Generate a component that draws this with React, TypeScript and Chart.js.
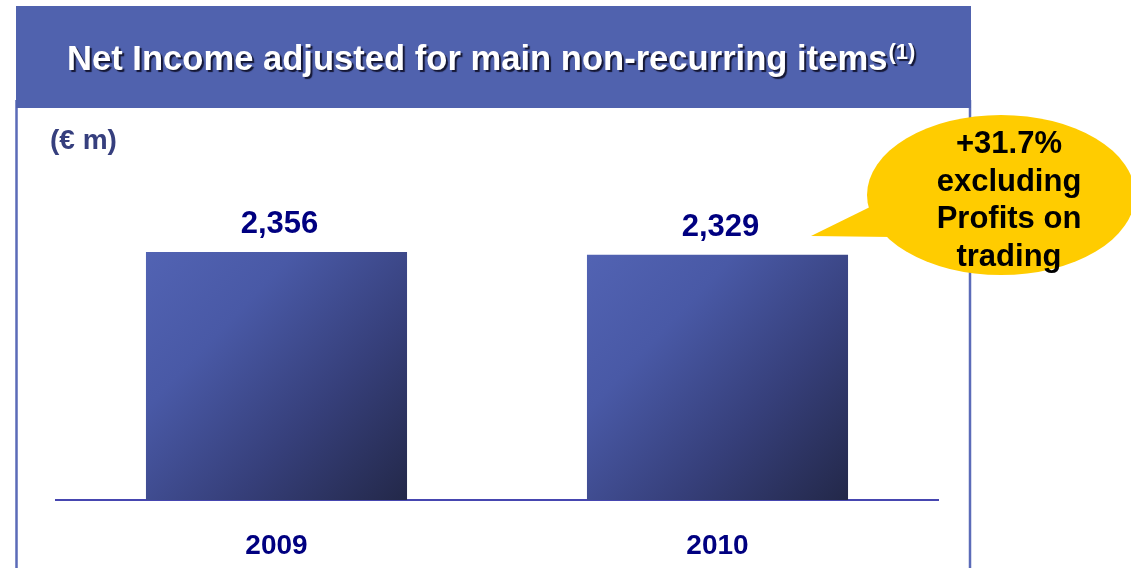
import React, { useEffect, useRef } from "react";
import { Chart, registerables } from "chart.js";

Chart.register(...registerables);

const categories = ["2009", "2010"];
const values = [2356, 2329];
const valueLabels = ["2,356", "2,329"];
const titleText = "Net Income adjusted for main non-recurring items";
const titleSup = "(1)";
const unitText = "(€ m)";
const bubbleLines = ["+31.7%", "excluding", "Profits on", "trading"];

const FONT = '"Liberation Sans", Arial, sans-serif';
const BAR_PCT = 0.592;
const CANVAS_H = 592;

const decorPlugin = {
  id: "decor",
  beforeDraw(chart: any) {
    const ctx = chart.ctx;
    ctx.save();
    ctx.fillStyle = "#ffffff";
    ctx.fillRect(0, 0, chart.width, chart.height);
    // side borders
    ctx.strokeStyle = "#5b6bb8";
    ctx.lineWidth = 2.5;
    ctx.beginPath();
    ctx.moveTo(16.5, 100);
    ctx.lineTo(16.5, chart.height);
    ctx.moveTo(970, 100);
    ctx.lineTo(970, chart.height);
    ctx.stroke();
    // title bar
    ctx.fillStyle = "#5062ae";
    ctx.fillRect(16, 6, 955, 102);
    // title text
    ctx.font = `bold 34.6px ${FONT}`;
    ctx.textBaseline = "alphabetic";
    ctx.textAlign = "left";
    ctx.shadowColor = "rgba(10,10,30,0.85)";
    ctx.shadowOffsetX = 2;
    ctx.shadowOffsetY = 2;
    ctx.shadowBlur = 1;
    ctx.fillStyle = "#ffffff";
    ctx.fillText(titleText, 67, 70);
    const w = ctx.measureText(titleText).width;
    ctx.font = `bold 22px ${FONT}`;
    ctx.fillText(titleSup, 67 + w + 1, 59);
    ctx.restore();
    // unit
    ctx.save();
    ctx.font = `bold 28px ${FONT}`;
    ctx.fillStyle = "#363f7e";
    ctx.textAlign = "left";
    ctx.textBaseline = "alphabetic";
    ctx.fillText(unitText, 50, 149);
    ctx.restore();
  },
  afterDatasetsDraw(chart: any) {
    const ctx = chart.ctx;
    const meta = chart.getDatasetMeta(0);
    ctx.save();
    ctx.font = `bold 31px ${FONT}`;
    ctx.fillStyle = "#000080";
    ctx.textAlign = "center";
    ctx.textBaseline = "alphabetic";
    meta.data.forEach((bar: any, i: number) => {
      ctx.fillText(valueLabels[i], bar.x + 3, bar.y - 19);
    });
    ctx.restore();
  },
  afterDraw(chart: any) {
    const ctx = chart.ctx;
    ctx.save();
    ctx.fillStyle = "#ffcc00";
    ctx.beginPath();
    ctx.ellipse(1001, 195, 134, 80, 0, 0, Math.PI * 2);
    ctx.fill();
    ctx.beginPath();
    ctx.moveTo(811, 236);
    ctx.lineTo(870, 207);
    ctx.lineTo(892, 237);
    ctx.closePath();
    ctx.fill();
    ctx.font = `bold 31px ${FONT}`;
    ctx.fillStyle = "#000000";
    ctx.textAlign = "center";
    ctx.textBaseline = "alphabetic";
    bubbleLines.forEach((line, i) => {
      ctx.fillText(line, 1009, 153 + i * 37.5);
    });
    ctx.restore();
  },
};

export default function App() {
  const ref = useRef<HTMLCanvasElement | null>(null);

  useEffect(() => {
    if (!ref.current) return;
    const chart = new Chart(ref.current, {
      type: "bar",
      data: {
        labels: categories,
        datasets: [
          {
            data: values,
            backgroundColor: (c: any) => {
              const ch = c.chart;
              const xs = ch.scales && ch.scales.x;
              const ys = ch.scales && ch.scales.y;
              if (!xs || !ys || !ch.chartArea || c.dataIndex == null) return "#4050a0";
              const cx = xs.getPixelForValue(c.dataIndex);
              const half = ((ch.chartArea.width / categories.length) * BAR_PCT) / 2;
              const top = ys.getPixelForValue(values[c.dataIndex]);
              const bottom = ys.getPixelForValue(0);
              const g = ch.ctx.createLinearGradient(cx - half, top, cx + half, bottom);
              g.addColorStop(0, "#5263b3");
              g.addColorStop(0.3, "#4959a6");
              g.addColorStop(0.65, "#363f7a");
              g.addColorStop(1, "#232849");
              return g;
            },
            borderWidth: 0,
            categoryPercentage: 1,
            barPercentage: BAR_PCT,
          },
        ],
      },
      options: {
        responsive: false,
        animation: false,
        layout: { padding: { left: 56, right: 193, top: 170, bottom: 0 } },
        plugins: {
          legend: { display: false },
          title: { display: false },
          tooltip: { enabled: false },
        },
        scales: {
          x: {
            grid: { display: false, drawTicks: false },
            border: { display: true, color: "#4646b0", width: 2 },
            ticks: {
              color: "#000080",
              padding: 29.2,
              font: { family: FONT, size: 28, weight: "bold" },
            },
          },
          y: {
            display: false,
            min: 0,
            max: 3135,
          },
        },
      },
      plugins: [decorPlugin],
    });
    return () => chart.destroy();
  }, []);

  return (
    <div style={{ position: "absolute", left: 0, top: 0, width: 1131, height: 568, overflow: "hidden" }}>
      <canvas ref={ref} width={1131} height={CANVAS_H} style={{ display: "block" }} />
    </div>
  );
}
